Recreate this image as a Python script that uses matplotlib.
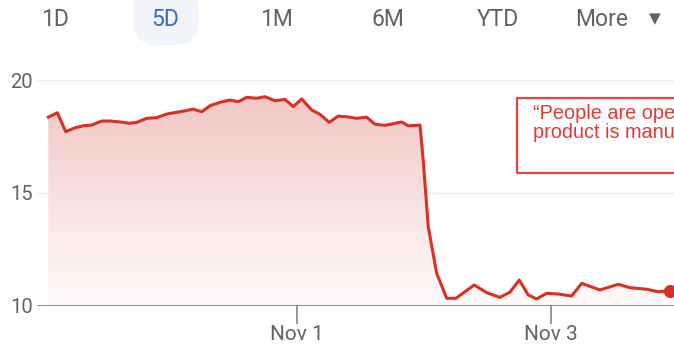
import numpy as np
import matplotlib.pyplot as plt
from matplotlib.colors import LinearSegmentedColormap
from matplotlib.patches import Rectangle, FancyBboxPatch

# price over the 5 day window, x in days (Nov 1 = 1.0)
days = [-0.958, -0.887, -0.821, -0.748, -0.683, -0.617, -0.538, -0.472, -0.394, -0.315,
        -0.262, -0.183, -0.105, -0.026, 0.053, 0.118, 0.183, 0.250, 0.315, 0.394,
        0.472, 0.538, 0.604, 0.683, 0.748, 0.827, 0.906, 0.971, 1.037, 1.116,
        1.181, 1.254, 1.325, 1.391, 1.470, 1.549, 1.614, 1.693, 1.758, 1.824,
        1.876, 1.969, 1.994, 2.034, 2.100, 2.179, 2.252, 2.396, 2.494, 2.598,
        2.677, 2.750, 2.821, 2.887, 2.966, 3.057, 3.163, 3.242, 3.386, 3.530,
        3.622, 3.754, 3.846, 3.937]
price = [18.35, 18.55, 17.71, 17.88, 17.97, 18.00, 18.18, 18.18, 18.14, 18.08,
         18.12, 18.30, 18.33, 18.49, 18.57, 18.63, 18.71, 18.59, 18.86, 19.01,
         19.11, 19.04, 19.23, 19.19, 19.26, 19.08, 19.14, 18.82, 19.16, 18.67,
         18.48, 18.12, 18.40, 18.37, 18.30, 18.35, 18.04, 17.99, 18.06, 18.14,
         17.97, 18.00, 16.45, 13.49, 11.43, 10.32, 10.32, 10.91, 10.57, 10.36,
         10.59, 11.13, 10.47, 10.29, 10.54, 10.51, 10.42, 10.98, 10.69, 10.94,
         10.79, 10.72, 10.61, 10.66]

tick_days = [1, 3]
tick_labels = ["Nov 1", "Nov 3"]
y_ticks = [10, 15, 20]
ranges = ["1D", "5D", "1M", "6M", "YTD", "More"]

red = "#d93025"
grey = "#5f6368"

fig = plt.figure(figsize=(6.74, 3.47), dpi=100)
ax = fig.add_axes([37 / 674, 41.5 / 347, 1 - 37 / 674, 225.5 / 347])

# gradient fill under the line
fill = ax.fill_between(days, price, 10, color="none", lw=0)
grad = LinearSegmentedColormap.from_list("g", ["#fefafa", "#f8e1df", "#f2c6c2"])
img = ax.imshow(np.linspace(0, 1, 256).reshape(-1, 1), cmap=grad, aspect="auto",
                origin="lower", extent=[days[0], days[-1], 10, max(price) + 0.2], zorder=1)
img.set_clip_path(fill.get_paths()[0], transform=ax.transData)
ax.set_xlim(-1.047, 3.969)
ax.set_ylim(10, 20)

ax.plot(days, price, color=red, lw=2.2, zorder=3, solid_joinstyle="round")
ax.plot(days[-1], price[-1], "o", color=red, ms=8.5, zorder=4, clip_on=False)

for s in ax.spines.values():
    s.set_visible(False)
for y in y_ticks[1:]:
    ax.axhline(y, color="#eeeeee", lw=1, zorder=0)
ax.axhline(10, color="#80868b", lw=1.3, zorder=2)

ax.set_xticks(tick_days)
ax.set_xticklabels(tick_labels, fontsize=15, color=grey, family="Roboto")
ax.tick_params(axis="x", direction="out", length=13, width=1.2, color="#80868b", pad=1)
ax.set_yticks(y_ticks)
ax.set_yticklabels([str(v) for v in y_ticks], fontsize=14.5, color=grey, family="Roboto")
ax.tick_params(axis="y", length=0, pad=3)

# range selector row
fig.patches.append(FancyBboxPatch((1.33, 3.02), 0.66, 0.6,
                                  boxstyle="round,pad=0,rounding_size=0.25",
                                  transform=fig.dpi_scale_trans, fc="#f1f4f9", ec="none"))
tab_x = [55, 165, 277, 388, 498, 602]
for label, x in zip(ranges, tab_x):
    fig.text(x / 674, 1 - 20 / 347, label, ha="center", va="center", fontsize=16.5,
             family="Roboto", color="#3b6ac4" if label == "5D" else grey)
fig.text(655 / 674, 1 - 19 / 347, "▼", ha="center", va="center", fontsize=11,
         family="DejaVu Sans", color=grey)

# quote box, running past the right edge
fig.patches.append(Rectangle((516.7 / 674, 1 - 173 / 347), 0.5, (173 - 98) / 347,
                             transform=fig.transFigure, fill=False, ec="#e0463f", lw=1.6))
fig.text(533 / 674, 1 - 119 / 347, "“People are open", fontsize=14.3, va="baseline",
         family="Liberation Sans", color="#e53935")
fig.text(533 / 674, 1 - 138.5 / 347, "product is manuf", fontsize=14.3, va="baseline",
         family="Liberation Sans", color="#e53935")

fig.savefig("out.png", dpi=100)
